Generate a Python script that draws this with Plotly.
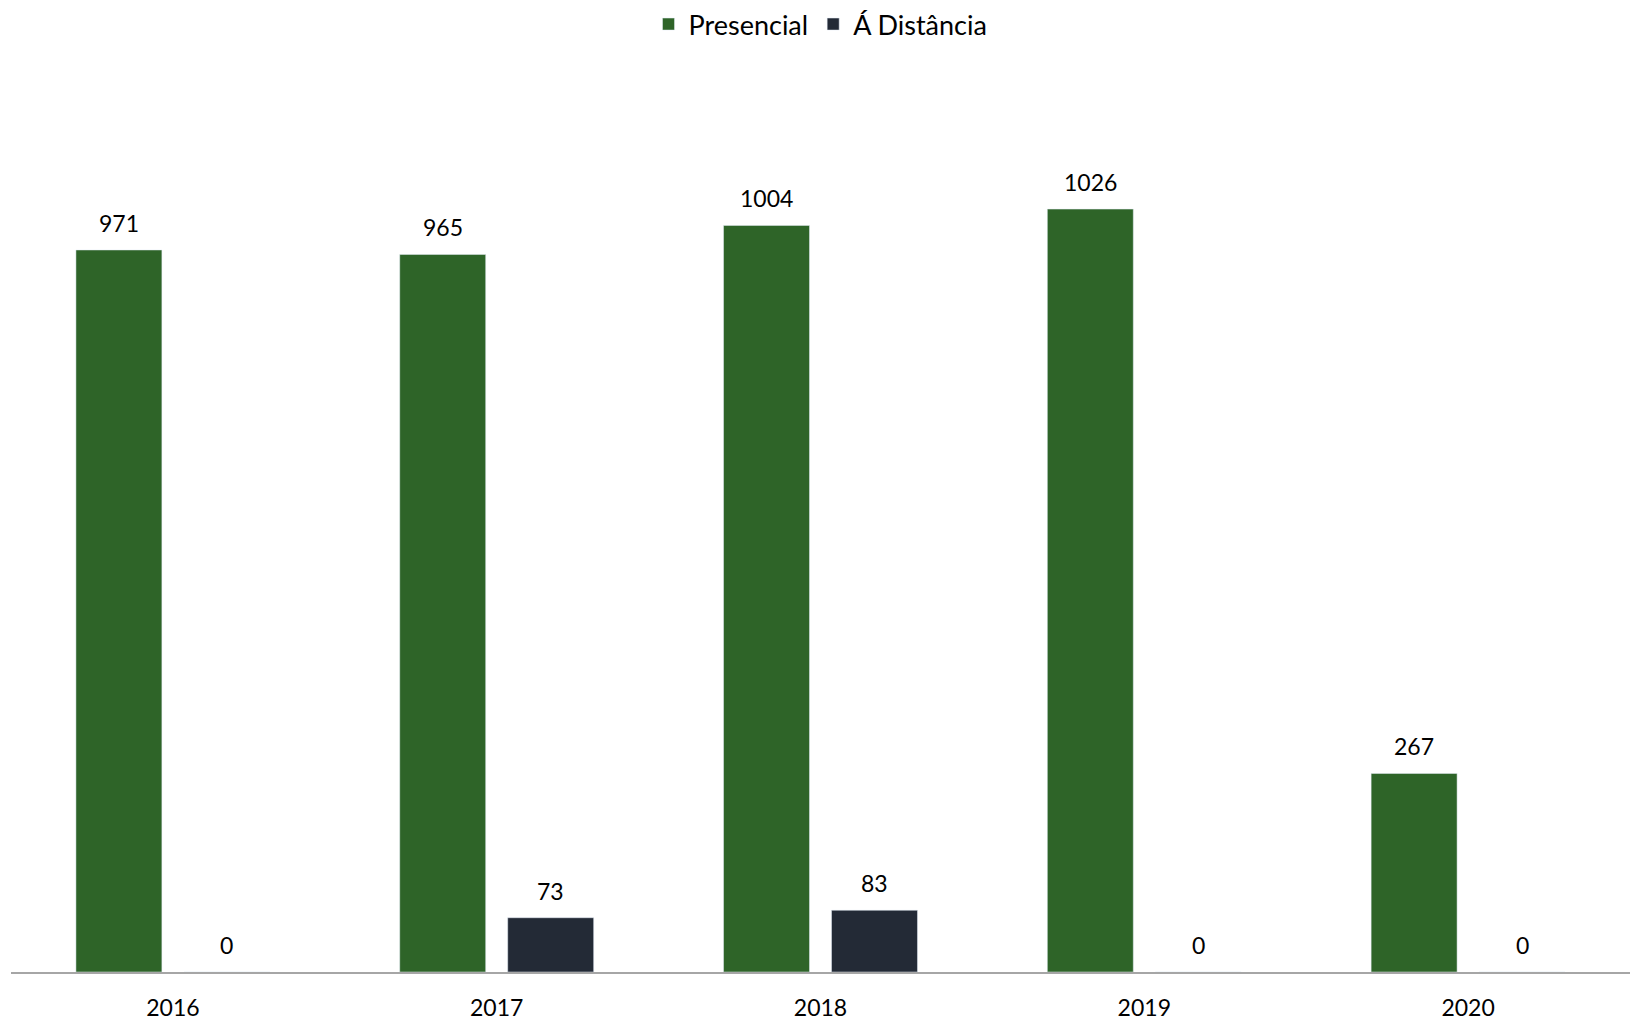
import plotly.graph_objects as go

years = ["2016", "2017", "2018", "2019", "2020"]
presencial = [971, 965, 1004, 1026, 267]
distancia = [0, 73, 83, 0, 0]
series_names = ["Presencial", "Á Distância"]
colors = ["#2E6428", "#232A36"]

FONT = "Lato, 'Open Sans', sans-serif"

fig = go.Figure()
fig.add_trace(go.Bar(x=years, y=presencial, name=series_names[0], marker_color=colors[0]))
fig.add_trace(go.Bar(x=years, y=distancia, name=series_names[1], marker_color=colors[1]))

shift = 54
for i, yr in enumerate(years):
    for vals, dx in ((presencial, -shift), (distancia, shift)):
        fig.add_annotation(x=i, y=vals[i], text=str(vals[i]), showarrow=False,
                           xshift=dx, yshift=27, yanchor="middle",
                           font=dict(family=FONT, size=23, color="#000000"))

fig.update_layout(
    width=1630, height=1025,
    margin=dict(l=11, r=0, t=100, b=53),
    plot_bgcolor="white", paper_bgcolor="white",
    barmode="group", bargap=0.333, bargroupgap=0.204,
    font=dict(family=FONT, size=19, color="#000000"),
    legend=dict(orientation="h", x=0.5, xanchor="center", y=1.0, yref="container",
                yanchor="top", font=dict(family=FONT, size=27), itemwidth=30,
                traceorder="normal"),
    showlegend=True,
)
fig.update_xaxes(type="category", range=[-0.5, len(years) - 0.5], showline=True,
                 linecolor="#A6A6A6", linewidth=1.5, ticks="",
                 tickfont=dict(family=FONT, size=23), ticklabelstandoff=15)
fig.update_yaxes(range=[0, 1172.7], visible=False, showgrid=False)

fig.write_html("out.html", config={"displayModeBar": False},
               post_script="document.body.style.margin='0';document.body.style.overflow='hidden';")
